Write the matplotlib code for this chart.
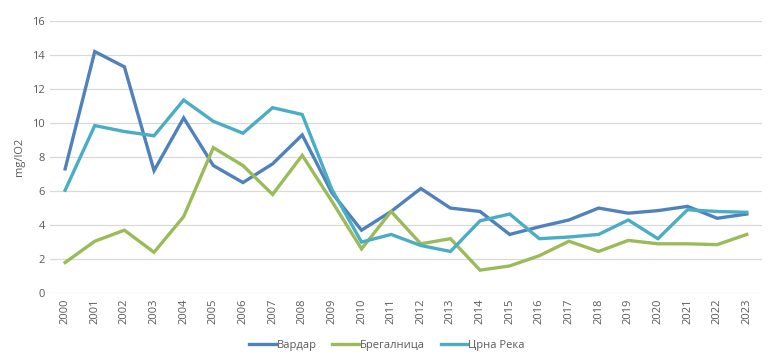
import numpy as np
import matplotlib
matplotlib.use('Agg')
import matplotlib.pyplot as plt

plt.rcParams['font.family'] = ['Open Sans', 'DejaVu Sans']

years = [str(y) for y in range(2000, 2024)]

vardar = [7.3, 14.2, 13.3, 7.2, 10.3, 7.5, 6.5, 7.6, 9.3, 5.9, 3.7, 4.8,
          6.15, 5.0, 4.8, 3.45, 3.9, 4.3, 5.0, 4.7, 4.85, 5.1, 4.4, 4.65]
bregalnica = [1.8, 3.05, 3.7, 2.4, 4.5, 8.55, 7.5, 5.8, 8.1, 5.4, 2.6, 4.8,
              2.9, 3.2, 1.35, 1.6, 2.2, 3.05, 2.45, 3.1, 2.9, 2.9, 2.85, 3.45]
crna_reka = [6.05, 9.85, 9.5, 9.25, 11.35, 10.1, 9.4, 10.9, 10.5, 6.1, 3.0, 3.45,
             2.8, 2.45, 4.25, 4.65, 3.2, 3.3, 3.45, 4.3, 3.2, 4.9, 4.8, 4.75]

series = [('Вардар', vardar, '#4F81BD'),
          ('Брегалница', bregalnica, '#9BBB59'),
          ('Црна Река', crna_reka, '#4BACC6')]

fig = plt.figure(figsize=(7.74, 3.61), dpi=100)
ax = fig.add_axes([0.065, 0.188, 0.919, 0.754])

x = np.arange(len(years))
for name, vals, col in series:
    ax.plot(x, vals, color=col, lw=2.4, label=name, solid_joinstyle='miter')

ax.set_xlim(-0.5, len(years) - 0.5)
ax.set_ylim(0, 16)
ax.set_yticks(range(0, 17, 2))
ax.set_xticks(x)
ax.set_xticklabels(years, rotation=90)
ax.yaxis.grid(True, color='#D9D9D9', lw=0.9)
ax.set_axisbelow(True)
for s in ax.spines.values():
    s.set_visible(False)
ax.tick_params(length=0, labelsize=8, colors='#595959', pad=4)
ax.set_ylabel('mg/lO2', fontsize=8, color='#595959', labelpad=5)

fig.legend(loc='lower center', bbox_to_anchor=(0.5, 0.0), ncol=3, frameon=False,
           fontsize=8, labelcolor='#595959', handlelength=2.4, handletextpad=0.1,
           columnspacing=1.4)

fig.savefig('out.png', dpi=100)
